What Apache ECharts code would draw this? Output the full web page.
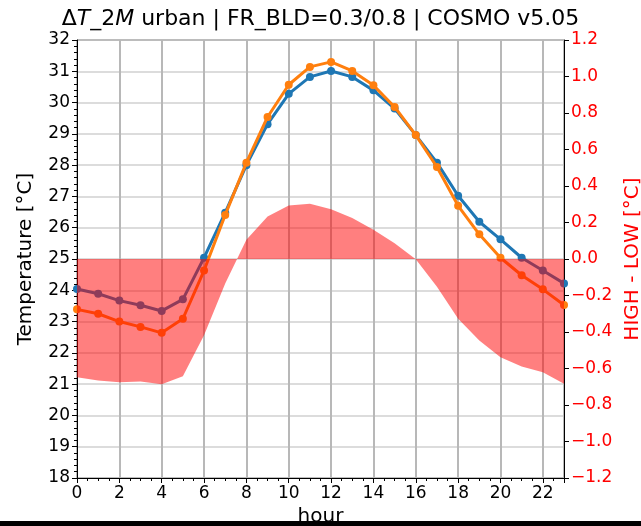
<!DOCTYPE html>
<html>
<head>
<meta charset="utf-8">
<script src="https://cdn.jsdelivr.net/npm/echarts@6/dist/echarts.min.js"></script>
<style>
html,body{margin:0;padding:0;background:#fff;}
#chart{width:641px;height:526px;}
</style>
</head>
<body>
<div id="chart"></div>
<script>
// ---- data ----
const hours = [0,1,2,3,4,5,6,7,8,9,10,11,12,13,14,15,16,17,18,19,20,21,22,23];
const lowTemp = [24.04,23.89,23.67,23.52,23.34,23.71,25.04,26.48,28.00,29.31,30.28,30.82,31.01,30.82,30.39,29.81,28.96,28.08,27.02,26.19,25.63,25.04,24.63,24.22];
const highTemp = [23.39,23.25,23.00,22.83,22.64,23.09,24.63,26.41,28.08,29.54,30.57,31.14,31.30,31.01,30.55,29.86,28.96,27.94,26.70,25.79,25.04,24.48,24.03,23.53];
const diff = [-0.648,-0.666,-0.675,-0.671,-0.686,-0.642,-0.418,-0.134,0.105,0.233,0.293,0.303,0.273,0.224,0.160,0.086,-0.002,-0.152,-0.327,-0.446,-0.538,-0.589,-0.620,-0.684];
const xTicks = [0,2,4,6,8,10,12,14,16,18,20,22];
const leftTicks = [18,19,20,21,22,23,24,25,26,27,28,29,30,31,32];
const rightTicks = [-1.2,-1.0,-0.8,-0.6,-0.4,-0.2,0.0,0.2,0.4,0.6,0.8,1.0,1.2];

const FONT = 'DejaVu Sans';
const pair = (arr) => hours.map((h,i)=>[h, arr[i]]);

const chart = echarts.init(document.getElementById('chart'), null, {renderer:'canvas'});
chart.setOption({
  animation:false,
  backgroundColor:'#fff',
  textStyle:{fontFamily:FONT},
  title:{
    left:'center', top:3,
    text:'{n|Δ}{i|T}{n|_2}{i|M}{n| urban | FR_BLD=0.3/0.8 | COSMO v5.05}',
    textStyle:{
      fontWeight:'normal',
      rich:{
        n:{fontFamily:FONT,fontSize:22,fontWeight:'normal',color:'#000'},
        i:{fontFamily:FONT,fontSize:22,fontWeight:'normal',fontStyle:'italic',color:'#000'}
      }
    }
  },
  grid:{left:77,right:77,top:40,bottom:48,containLabel:false,outerBoundsMode:'none',
    show:true,borderColor:'#000',borderWidth:1,backgroundColor:'transparent'},
  xAxis:{
    type:'value', min:0, max:23, interval:2,
    name:'hour', nameLocation:'middle', nameGap:23,
    nameTextStyle:{fontFamily:FONT,fontSize:20,color:'#000'},
    axisLine:{show:true,onZero:false,lineStyle:{color:'#000',width:1}},
    axisTick:{show:true,length:5,lineStyle:{color:'#000'}},
    minorTick:{show:true,splitNumber:4,length:3,lineStyle:{color:'#000'}},
    axisLabel:{fontFamily:FONT,fontSize:17,color:'#000',margin:7,
      formatter:(v)=> xTicks.includes(v) ? String(v) : ''},
    splitLine:{show:true,lineStyle:{color:'#b8b8b8',width:2}}
  },
  yAxis:[
    {
      type:'value', min:18, max:32, interval:1, position:'left',
      name:'Temperature [°C]', nameLocation:'middle', nameGap:41,
      nameTextStyle:{fontFamily:FONT,fontSize:20,color:'#000'},
      axisLine:{show:true,onZero:false,lineStyle:{color:'#000',width:1}},
      axisTick:{show:true,length:5,lineStyle:{color:'#000'}},
      minorTick:{show:true,splitNumber:5,length:3,lineStyle:{color:'#000'}},
      axisLabel:{fontFamily:FONT,fontSize:17,color:'#000',margin:7,
        formatter:(v)=> leftTicks.includes(v) ? String(v) : ''},
      splitLine:{show:true,lineStyle:{color:'#d0d0d0',width:1.5}}
    },
    {
      type:'value', min:-1.2, max:1.2, interval:0.2, position:'right',
      name:'HIGH - LOW [°C]', nameLocation:'middle', nameGap:57,
      nameTextStyle:{fontFamily:FONT,fontSize:20,color:'#ff0000'},
      axisLine:{show:true,onZero:false,lineStyle:{color:'#000',width:1}},
      axisTick:{show:true,length:5,lineStyle:{color:'#000'}},
      axisLabel:{fontFamily:FONT,fontSize:17,color:'#ff0000',margin:7,
        formatter:(v)=>{
          const r = Math.round(v*10)/10;
          const s = Math.abs(r).toFixed(1);
          return (r < 0 ? '\u2212' : '') + s;
        }},
      splitLine:{show:false}
    }
  ],
  series:[
    {
      type:'line', yAxisIndex:0, data:pair(lowTemp),
      symbol:'circle', symbolSize:8, showSymbol:true,
      lineStyle:{color:'#1f77b4',width:3},
      itemStyle:{color:'#1f77b4'}, z:3
    },
    {
      type:'line', yAxisIndex:0, data:pair(highTemp),
      symbol:'circle', symbolSize:8, showSymbol:true,
      lineStyle:{color:'#ff7f0e',width:3},
      itemStyle:{color:'#ff7f0e'}, z:4
    },
    {
      type:'line', yAxisIndex:1, data:pair(diff),
      symbol:'none', lineStyle:{width:0,color:'#ff0000'},
      areaStyle:{color:'#ff0000', opacity:0.5, origin:0}, z:5
    }
  ],
  graphic:[
    {type:'rect', shape:{x:0,y:521,width:641,height:5}, style:{fill:'#000'}, z:100}
  ]
});
</script>
</body>
</html>
